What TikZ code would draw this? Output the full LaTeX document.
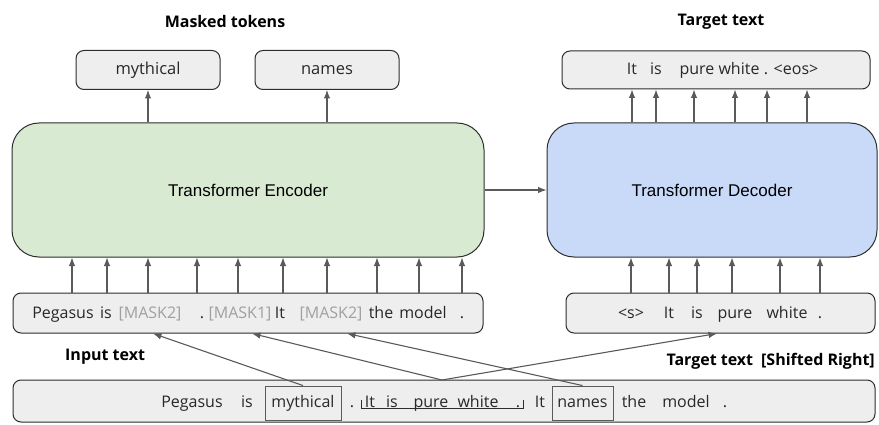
\documentclass[tikz,border=0pt]{standalone}
\usepackage{fontspec}
\setmainfont{Open Sans}
\newfontfamily\arialfont{Liberation Sans}
\usetikzlibrary{arrows.meta,positioning,calc}
\definecolor{encgreen}{RGB}{217,234,211}
\definecolor{decblue}{RGB}{201,218,248}
\definecolor{boxgray}{RGB}{238,238,238}
\definecolor{edgedark}{RGB}{45,45,45}
\definecolor{arrowgray}{RGB}{90,90,90}
\definecolor{maskgray}{RGB}{160,160,160}
\definecolor{inkgray}{RGB}{40,40,40}

\begin{document}
\begin{tikzpicture}[x=1pt, y=-1pt,
    tokbox/.style={draw=edgedark, line width=1pt, fill=boxgray, rounded corners=8pt, inner sep=0pt, text=inkgray, font=\fontsize{16.5}{19}\selectfont},
    coder/.style={draw=edgedark, line width=1pt, rounded corners=27pt, minimum height=134pt, font=\arialfont\fontsize{17}{20}\selectfont},
    tok/.style={inner sep=0pt, text height=12pt, text depth=4pt, text=inkgray, font=\fontsize{16}{19}\selectfont},
    framed/.style={tok, draw=arrowgray, line width=0.9pt, inner xsep=2pt, minimum height=34pt},
    lab/.style={inner sep=0pt, font=\bfseries\fontsize{16}{19}\selectfont},
    arr/.style={draw=arrowgray, line width=1.1pt, -{Latex[length=8.5pt,width=6.5pt]}}
]
    \useasboundingbox (0,0) rectangle (879,425);

    % Encoder and decoder
    \node[coder, fill=encgreen, minimum width=472pt] (encoder) at (248,190) {Transformer Encoder};
    \node[coder, fill=decblue, minimum width=330pt] (decoder) at (712,190) {Transformer Decoder};
    \draw[arr] (encoder.east) -- (decoder.west);

    % Masked tokens (encoder output)
    \node[lab] (masklab) at (225,22) {Masked tokens};
    \node[tokbox, minimum width=144pt, minimum height=39pt] (outmyth) at (148,70) {mythical};
    \node[tokbox, minimum width=144pt, minimum height=39pt] (outnames) at (327,70) {names};
    \draw[arr] (outmyth |- encoder.north) -- (outmyth.south);
    \draw[arr] (outnames |- encoder.north) -- (outnames.south);

    % Target text (decoder output)
    \node[lab] (tgtlab) at (721,22) {Target text};
    \node[tokbox, minimum width=308pt, minimum height=38pt] (target) at (716,70) {};
    \foreach \x/\ax/\w [count=\i] in {632/632/It, 656/656/is, 697/694/pure, 739/735/white, 766/767/., 796/807/<eos>} {
        \node[tok] (tg\i) at (\x,71) {\w};
        \coordinate (ta\i) at (\ax,70);
        \draw[arr] (ta\i |- decoder.north) -- (ta\i |- target.south);
    }

    % Input text with masks
    \node[tokbox, minimum width=470pt, minimum height=40pt] (inbox) at (248,313) {};
    \foreach \x/\ax/\w [count=\i] in {63/72/Pegasus, 106/107/is, 150/148/{\textcolor{maskgray}{[MASK2]}}, 202/197/., 240/238/{\textcolor{maskgray}{[MASK1]}}, 280/283/It, 331/327/{\textcolor{maskgray}{[MASK2]}}, 381/377/the, 423/419/model, 462/462/.} {
        \node[tok] (in\i) at (\x,314) {\w};
        \coordinate (ia\i) at (\ax,313);
        \draw[arr] (ia\i |- inbox.north) -- (ia\i |- encoder.south);
    }
    \node[lab, anchor=west] (inlab) at (65,357) {Input text};

    % Shifted target (decoder input)
    \node[tokbox, minimum width=309pt, minimum height=40pt] (decin) at (720.5,313) {};
    \foreach \x/\ax/\w [count=\i] in {631/631/<s>, 669/669/It, 697/697/is, 735/732/pure, 787/780/white, 820/820/.} {
        \node[tok] (dc\i) at (\x,314) {\w};
        \coordinate (da\i) at (\ax,313);
        \draw[arr] (da\i |- decin.north) -- (da\i |- decoder.south);
    }
    \node[lab, anchor=east] (shiftlab) at (875,361) {Target text\enspace[Shifted Right]};

    % Original text
    \node[tokbox, minimum width=862pt, minimum height=42pt] (source) at (444,401) {};
    \foreach \x/\w [count=\i] in {192/Pegasus, 247/is, 352/., 370/It, 392/is, 431/pure, 478/white, 518/., 540/It, 634/the, 686/model, 725/.} {
        \node[tok] (src\i) at (\x,403) {\w};
    }
    \node[framed, minimum width=76pt] (srcmyth) at (303,403) {mythical};
    \node[framed, minimum width=61pt] (srcnames) at (582.5,403) {names};
    \draw[edgedark, line width=0.9pt] (361,400) -- (361,408) -- (523,408) -- (523,400);
    \coordinate (gapsent) at (442,380);

    % Where the pieces go
    \draw[arr] (srcmyth.north) -- ($(in3 |- inbox.south)+(3,0)$);
    \draw[arr] (gapsent) -- ($(in5 |- inbox.south)+(12,0)$);
    \draw[arr] (srcnames.north) -- ($(in7 |- inbox.south)+(16,0)$);
    \draw[arr] (gapsent) -- ($(dc4 |- decin.south)+(-18,0)$);
\end{tikzpicture}
\end{document}
